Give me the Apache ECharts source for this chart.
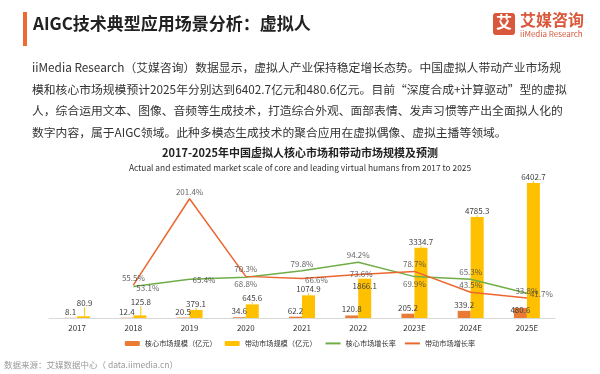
<!DOCTYPE html>
<html><head><meta charset="utf-8">
<script src="https://cdn.jsdelivr.net/npm/echarts@6/dist/echarts.min.js"></script>
<style>html,body{margin:0;padding:0;background:#fff;}#c{width:600px;height:374px;}</style>
</head><body><div id="c"></div>
<script>
const categories = ['2017','2018','2019','2020','2021','2022','2023E','2024E','2025E'];
const coreMarket = [8.1, 12.4, 20.5, 34.6, 62.2, 120.8, 205.2, 339.2, 480.6];
const leadMarket = [80.9, 125.8, 379.1, 645.6, 1074.9, 1866.1, 3334.7, 4785.3, 6402.7];
const coreGrowth = [null, 53.1, 65.4, 68.8, 79.8, 94.2, 69.9, 65.3, 41.7];
const leadGrowth = [null, 55.5, 201.4, 70.3, 66.6, 73.6, 78.7, 43.5, 33.8];
const seriesNames = ['核心市场规模（亿元）','带动市场规模（亿元）','核心市场增长率','带动市场增长率'];
const paragraph = [
 'iiMedia Research（艾媒咨询）数据显示，虚拟人产业保持稳定增长态势。中国虚拟人带动产业市场规',
 '模和核心市场规模预计2025年分别达到6402.7亿元和480.6亿元。目前“深度合成+计算驱动”型的虚拟',
 '人，综合运用文本、图像、音频等生成技术，打造综合外观、面部表情、发声习惯等产出全面拟人化的',
 '数字内容，属于AIGC领域。此种多模态生成技术的聚合应用在虚拟偶像、虚拟主播等领域。'
];
const corePos = ['top','top','top','top','top','top','top','top','in'];
const leadPos = ['lift','lift','top','top','top','in','top','top','top'];
const coreGrowthPos = [null,'right','right','bottom','top','top','bottom','top','right'];
const leadGrowthPos = [null,'top','top','top','right','inside','top','top','top'];

const FONT = '"Noto Sans CJK SC","Noto Sans",sans-serif';
const C_CORE = '#E97B35', C_LEAD = '#FFC000', C_GREEN = '#70AD47', C_LINE = '#EC6630';
const lblBase = {show:true, fontSize:8, color:'#404040', fontFamily:FONT};

function labelData(vals, pos){
  return vals.map((v,i)=>{
    if(v==null) return null;
    const p = pos[i];
    const lab = Object.assign({}, lblBase, {position:p, distance:3, formatter: v + '%'});
    if(p==='right') lab.offset=[0,1];
    if(p==='inside') lab.offset=[3,0];
    return {value:v, label:lab};
  });
}
const chart = echarts.init(document.getElementById('c'), null, {renderer:'canvas'});
const graphics = [
  {type:'rect', left:23, top:12, shape:{width:4, height:34}, style:{fill:'#EE6A33'}},
  {type:'text', left:33, top:15, style:{text:'AIGC技术典型应用场景分析：虚拟人', font:'bold 17px '+FONT, fill:'#222'}},
  {type:'rect', left:493, top:13, shape:{width:22, height:22, r:3}, style:{fill:'#D9573A'}},
  {type:'text', left:496, top:14, style:{text:'艾', font:'bold 16px '+FONT, fill:'#fff'}},
  {type:'text', left:520, top:12, style:{text:'艾媒咨询', font:'bold 16px '+FONT, fill:'#D9573A'}},
  {type:'text', left:520, top:30, style:{text:'iiMedia Research', font:'8px '+FONT, fill:'#D9573A'}},
  {type:'text', left:'center', top:147, style:{text:'2017-2025年中国虚拟人核心市场和带动市场规模及预测', font:'bold 11px '+FONT, fill:'#222'}},
  {type:'text', left:'center', top:164, style:{text:'Actual and estimated market scale of core and leading virtual humans from 2017 to 2025', font:'8.4px '+FONT, fill:'#333'}},
  {type:'text', left:4, top:361, style:{text:'数据来源：艾媒数据中心（ data.iimedia.cn）', font:'8.5px '+FONT, fill:'#999'}}
];
paragraph.forEach((t,i)=>{
  graphics.push({type:'text', left:32, top:62+i*21.5, style:{text:t, font:'11.8px '+FONT, fill:'#333'}});
});

chart.setOption({
  animation:false,
  textStyle:{fontFamily:FONT},
  graphic: graphics,
  grid:{left:49, right:45, top:183, bottom:56, containLabel:false},
  legend:{
    data:[seriesNames[0], seriesNames[1],
      {name:seriesNames[2], itemStyle:{opacity:0}},
      {name:seriesNames[3], itemStyle:{opacity:0}}],
    bottom:22, left:'center', itemWidth:15, itemHeight:5, itemGap:8,
    textStyle:{fontSize:7.2, color:'#333', fontFamily:FONT}
  },
  xAxis:{type:'category', data:categories,
    axisLine:{lineStyle:{color:'#D9D9D9', width:1}}, axisTick:{show:false},
    axisLabel:{fontSize:8, color:'#333', margin:6, fontFamily:FONT}},
  yAxis:[
    {type:'value', min:0, max:6402.7, show:false, splitLine:{show:false}},
    {type:'value', min:0, max:228, show:false, splitLine:{show:false}}
  ],
  series:[
    {name:seriesNames[0], type:'bar', barWidth:13, barGap:'0%', itemStyle:{color:C_CORE},
      data: coreMarket.map((v,i)=>({value:v, label: corePos[i]==='in'
        ? Object.assign({}, lblBase, {position:'top', offset:[0,11]})
        : Object.assign({}, lblBase, {position:'top', distance:2})}))
    },
    {name:seriesNames[1], type:'bar', barWidth:13, itemStyle:{color:C_LEAD},
      data: leadMarket.map((v,i)=>({value:v, label: leadPos[i]==='in'
        ? Object.assign({}, lblBase, {position:'insideTop', distance:3})
        : Object.assign({}, lblBase, {position:'top', distance:2})})),
      labelLayout: function(p){ if(leadPos[p.dataIndex]==='lift') return {dy:-7, dx:1}; return {}; },
      labelLine:{show:true, lineStyle:{color:C_LEAD, width:1}, length2:0}
    },
    {name:seriesNames[2], type:'line', yAxisIndex:1, symbol:'none', lineStyle:{color:C_GREEN, width:1.5}, itemStyle:{color:C_GREEN},
      data: coreGrowth, z:5},
    {name:seriesNames[3], type:'line', yAxisIndex:1, symbol:'none', lineStyle:{color:C_LINE, width:1.5}, itemStyle:{color:C_LINE},
      data: leadGrowth, z:5},
    {name:'coreGrowthLabels', type:'scatter', yAxisIndex:1, symbolSize:0, silent:true, z:6,
      data: labelData(coreGrowth, coreGrowthPos)},
    {name:'leadGrowthLabels', type:'scatter', yAxisIndex:1, symbolSize:0, silent:true, z:6,
      data: labelData(leadGrowth, leadGrowthPos)}
  ]
});
</script></body></html>
